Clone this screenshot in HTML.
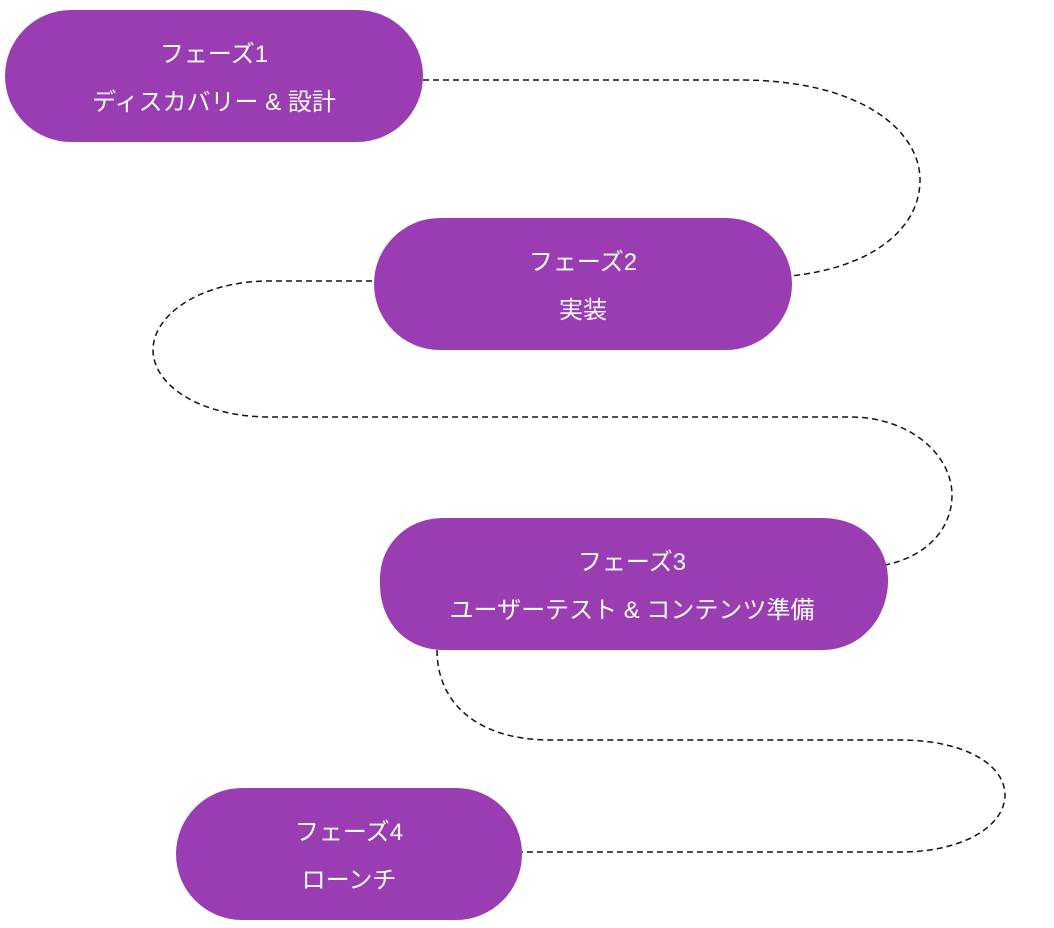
<!DOCTYPE html>
<html><head><meta charset="utf-8"><style>
html,body{margin:0;padding:0;background:#fff;}
svg{display:block;}
text{font-family:"Liberation Sans","Noto Sans CJK JP",sans-serif;font-size:24px;fill:#fff;text-anchor:middle;}
</style></head><body>
<svg width="1054" height="928" viewBox="0 0 1054 928" xmlns="http://www.w3.org/2000/svg">
<g fill="none" stroke="#111" stroke-width="1.5" stroke-dasharray="6,4">
<path d="M423,80 L740,80 C860,80 920,130 920,180 C920,230 870,268 790,276"/>
<path d="M372,281 L270,281 C200,281 153,315 153,350 C153,385 200,417 270,417 L850,417 C910,417 952,455 952,495 C952,530 925,557 885,565"/>
<path d="M437,650 C437,705 480,740 550,740 L900,740 C965,740 1005,765 1005,795 C1005,825 965,852 900,852 L522,852"/>
</g>
<g fill="#9a3db3">
<rect x="5" y="10" width="418" height="132" rx="66"/>
<rect x="374" y="218" width="418" height="132" rx="66"/>
<path d="M444,518 L822,518 C866,518 890,550 888,584 C886,620 860,650 822,650 L444,650 C404,650 380,620 380,584 C378,548 404,518 444,518 Z"/>
<rect x="176" y="788" width="346" height="132" rx="66"/>
</g>
<text x="214" y="62">フェーズ1</text>
<text x="214" y="110">ディスカバリー &amp; 設計</text>
<text x="583" y="270">フェーズ2</text>
<text x="583" y="318">実装</text>
<text x="632" y="570">フェーズ3</text>
<text x="632" y="618">ユーザーテスト &amp; コンテンツ準備</text>
<text x="349" y="840">フェーズ4</text>
<text x="349" y="888">ローンチ</text>
</svg>
</body></html>
